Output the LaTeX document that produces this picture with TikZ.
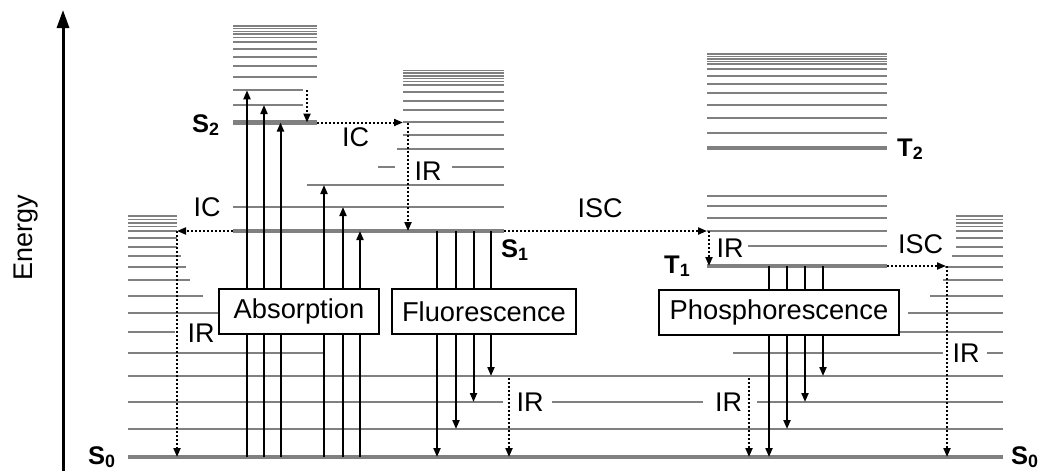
\documentclass[tikz,border=0pt]{standalone}
\usepackage{fontspec}
\setmainfont{Liberation Sans}
\usetikzlibrary{arrows.meta}
\definecolor{lvgray}{HTML}{808080}
\begin{document}
\begin{tikzpicture}[x=1pt,y=-1pt,
  lvl/.style={draw=lvgray,line width=2pt},
  dense/.style={draw=lvgray,line width=1.5pt},
  mainlvl/.style={draw=lvgray,line width=4.5pt},
  rad/.style={draw=black,line width=2pt,-{Triangle[length=9pt,width=7pt]}},
  nrad/.style={draw=black,line width=2pt,dash pattern=on 2pt off 2pt,-{Triangle[length=9pt,width=7pt]}},
  lab/.style={font=\fontsize{27}{30}\selectfont,inner sep=0pt},
  st/.style={font=\fontsize{25.5}{28}\selectfont\bfseries,inner sep=0pt,anchor=base west},
  procbox/.style={draw=black,line width=2pt,fill=white,font=\fontsize{27.3}{30}\selectfont,inner sep=0pt,minimum height=45pt}
]
\useasboundingbox (0,0) rectangle (1043,471);

% energy axis
\coordinate (eb) at (63,471);
\coordinate (et) at (63,10);
\draw[line width=3pt,-{Triangle[length=18pt,width=12pt]}] (eb) -- (et);
\node[lab,rotate=90,anchor=base] (energy) at (32,237.5) {Energy};

% ---- S0 vibrational levels ----
\foreach \y in {216,219.5,223,226.5}{
  \draw[dense] (128,\y) -- (177,\y);
  \draw[dense] (956,\y) -- (1003,\y);
}
\foreach \y in {230.5,238,246.5}{
  \draw[lvl] (128,\y) -- (177,\y);
  \draw[lvl] (956,\y) -- (1003,\y);
}
\draw[lvl] (128,255.5) -- (181,255.5);  \draw[lvl] (952,255.5) -- (1003,255.5);
\draw[lvl] (128,267) -- (186,267);      \draw[lvl] (945,267) -- (1003,267);
\draw[lvl] (128,280) -- (190,280);      \draw[lvl] (943,280) -- (1003,280);
\draw[lvl] (128,295.5) -- (203,295.5);  \draw[lvl] (930,295.5) -- (1003,295.5);
\draw[lvl] (128,313) -- (225,313);      \draw[lvl] (908,313) -- (1003,313);
\draw[lvl] (128,331.5) -- (175,331.5);  \draw[lvl] (890,331.5) -- (1003,331.5);
\draw[lvl] (128,353) -- (323,353);      \draw[lvl] (733,353) -- (943,353); \draw[lvl] (987,353) -- (1003,353);
\draw[lvl] (128,376) -- (1003,376);
\draw[lvl] (128,402) -- (503,402);      \draw[lvl] (552,402) -- (703,402); \draw[lvl] (757,402) -- (1003,402);
\draw[lvl] (128,429) -- (1003,429);
\draw[mainlvl] (128,457) -- (1003,457);
\node[st] (s0l) at (88,464) {S\textsubscript{0}};
\node[st] (s0r) at (1011,464) {S\textsubscript{0}};

% ---- S2 stack ----
\foreach \y in {26,28.7,31.4,34.2,37.3}{
  \draw[dense] (233,\y) -- (317,\y);
}
\foreach \y in {41.5,48.5,56.7,65.7,76.7}{
  \draw[lvl] (233,\y) -- (317,\y);
}
\draw[lvl] (233,90.3) -- (303,90.3);
\draw[lvl] (233,105) -- (303,105);
\draw[mainlvl] (233,122.5) -- (317,122.5);
\node[st] (s2) at (192,132) {S\textsubscript{2}};

% ---- S1 stack ----
\foreach \y in {70.5,73.2,75.9,78.6,81.5}{
  \draw[dense] (403,\y) -- (504,\y);
}
\foreach \y in {85.3,92.3,100.7,110,122}{
  \draw[lvl] (403,\y) -- (504,\y);
}
\draw[lvl] (403,135) -- (504,135);
\draw[lvl] (397,149.3) -- (504,149.3);
\draw[lvl] (378,167.3) -- (395,167.3);
\draw[lvl] (452,167.3) -- (504,167.3);
\draw[lvl] (307,185) -- (504,185);
\draw[lvl] (233,207) -- (504,207);
\draw[mainlvl] (233,231) -- (504,231);
\node[st] (s1) at (501,257) {S\textsubscript{1}};

% ---- T stack ----
\foreach \y in {54,56.5,59,61.5,64}{
  \draw[dense] (707,\y) -- (887,\y);
}
\foreach \y in {69,76,84,93,105,118,133}{
  \draw[lvl] (707,\y) -- (887,\y);
}
\draw[mainlvl] (707,148) -- (887,148);
\node[st] (t2) at (897,156) {T\textsubscript{2}};
\foreach \y in {196,206,218,231}{
  \draw[lvl] (707,\y) -- (887,\y);
}
\draw[lvl] (748,246) -- (887,246);
\draw[mainlvl] (707,266) -- (887,266);
\node[st] (t1) at (664,273) {T\textsubscript{1}};

% ---- absorption arrows ----
\foreach \x/\yt in {247/90.3,264/105,280.5/122.5,324/185,343/207,360/231}{
  \draw[rad] (\x,457) -- (\x,\yt);
}
\node[procbox,minimum width=160pt] (abs) at (299,311.5) {Absorption};

% ---- fluorescence ----
\foreach \x/\yb in {437/457,456/429,473.5/402,491/376}{
  \draw[rad] (\x,231) -- (\x,\yb);
}
\node[procbox,minimum width=184pt] (flu) at (484,311.5) {Fluorescence};

% ---- phosphorescence ----
\foreach \x/\yb in {769/457,787/429,805/402,823/376}{
  \draw[rad] (\x,266) -- (\x,\yb);
}
\node[procbox,minimum width=240pt] (pho) at (779,312) {Phosphorescence};

% ---- non-radiative ----
\draw[nrad] (307,90.3) -- (307,122.5);
\draw[nrad] (317,122.5) -- (403,122.5);
\draw[nrad] (408,122.5) -- (408,231);
\draw[nrad] (233,231) -- (177,231);
\draw[nrad] (177,231) -- (177,457);
\draw[nrad] (504,231) -- (707,231);
\draw[nrad] (709,231) -- (709,266);
\draw[nrad] (887,266) -- (946,266);
\draw[nrad] (947,266) -- (947,457);
\draw[nrad] (509,378) -- (509,457);
\draw[nrad] (749,378) -- (749,457);

% ---- labels ----
\node[lab] (ic1) at (355.5,137.5) {IC};
\node[lab] (ir1) at (428,171) {IR};
\node[lab] (ic2) at (207,207) {IC};
\node[lab] (isc1) at (600,208) {ISC};
\node[lab] (ir2) at (730,248) {IR};
\node[lab] (isc2) at (920.5,244) {ISC};
\node[lab] (ir3) at (201,333) {IR};
\node[lab] (ir4) at (530,402) {IR};
\node[lab] (ir5) at (728.5,402) {IR};
\node[lab] (ir6) at (966,353) {IR};
\end{tikzpicture}
\end{document}
